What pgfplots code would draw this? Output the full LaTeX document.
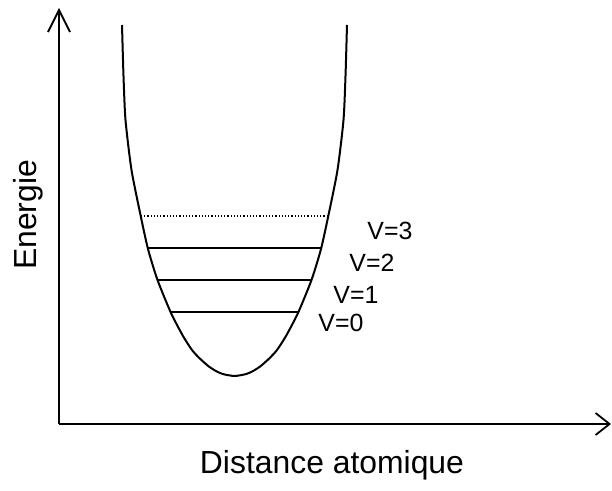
\documentclass[border=0pt]{standalone}
\usepackage{pgfplots}
\pgfplotsset{compat=1.18}
\usepackage{fontspec}
\setmainfont{Liberation Sans}
\usetikzlibrary{arrows.meta}
\begin{document}
\begin{tikzpicture}
\begin{axis}[
  scale only axis, width=552bp, height=416bp,
  xmin=59, xmax=611, ymin=67, ymax=483,
  axis lines=left,
  xtick=\empty, ytick=\empty,
  clip=false,
  x axis line style={line width=2.2bp,-{Straight Barb[length=14bp,width=22bp,line width=1.8bp]}},
  y axis line style={line width=2.2bp,-{Straight Barb[length=22bp,width=22bp,line width=1.8bp]}},
]
% potential curve
\addplot[black, line width=2bp, smooth, tension=0.4] coordinates {
(122,466) (123.5,415) (125.5,371) (131.5,321) (140.5,276) (148,242) (157.5,211) (171,178) (183,155) (192,141) (199.3,133) (208.2,125) (215.9,120) (222.7,117) (234.5,115)
(246.3,117) (253.1,120) (260.8,125) (269.7,133) (277,141) (286,155) (298,178) (311.5,211) (321,242) (328.5,276) (337.5,321) (343.5,371) (345.5,415) (347,466)
};
% vibrational levels
\addplot[black, line width=2bp] coordinates {(171,179) (298,179)};
\addplot[black, line width=2bp] coordinates {(157.5,211) (311.5,211)};
\addplot[black, line width=2bp] coordinates {(148,243) (321,243)};
\addplot[black, line width=1.3bp, dash pattern=on 1.2bp off 2bp] coordinates {(141,275) (327,275)};
% labels
\node[font=\fontsize{25}{30}\selectfont] at (axis cs:341,168) {V=0};
\node[font=\fontsize{25}{30}\selectfont] at (axis cs:356,196) {V=1};
\node[font=\fontsize{25}{30}\selectfont] at (axis cs:372,228) {V=2};
\node[font=\fontsize{25}{30}\selectfont] at (axis cs:390,260) {V=3};
\node[font=\fontsize{32}{38}\selectfont] at (axis cs:332,26) {Distance atomique};
\node[font=\fontsize{32}{38}\selectfont, rotate=90] at (axis cs:28,276) {Energie};
\coordinate (bl) at (axis cs:0,0);
\coordinate (tr) at (axis cs:612,491);
\end{axis}
\pgfresetboundingbox
\path[use as bounding box] (bl) rectangle (tr);
\end{tikzpicture}
\end{document}
